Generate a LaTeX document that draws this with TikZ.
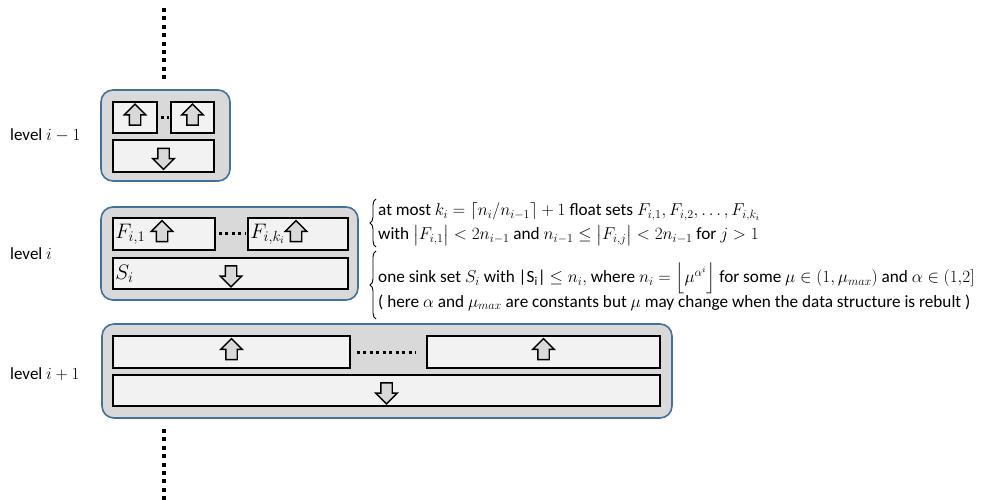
\documentclass[tikz,border=0pt]{standalone}
\usepackage{fix-cm}
\usepackage{amsmath,amssymb}
\usepackage{fontspec}
\setmainfont{Carlito}
\usetikzlibrary{positioning,shapes.arrows,decorations.pathreplacing}
\definecolor{frameblue}{RGB}{65,113,156}
\definecolor{levelgray}{RGB}{217,217,217}
\definecolor{setgray}{RGB}{242,242,242}

\begin{document}
\begin{tikzpicture}[
    x=1pt, y=-1pt,
    levelbox/.style={draw=frameblue, line width=1.6pt, fill=levelgray, rounded corners=12pt, inner sep=0pt},
    setbox/.style={draw=black, line width=1.6pt, fill=setgray, inner sep=0pt},
    floatarr/.style={draw=black, fill=levelgray, line width=1.4pt, shape=single arrow, shape border rotate=90,
        single arrow head extend=5pt, inner xsep=5pt, inner ysep=0pt, minimum height=21pt},
    sinkarr/.style={floatarr, shape border rotate=270},
    gap/.style={line width=3pt, dash pattern=on 3pt off 3.5pt},
    skip/.style={line width=4pt, dash pattern=on 4pt off 4.4pt},
    lvl/.style={font=\fontsize{17}{20}\selectfont, anchor=base west, inner sep=0pt},
    note/.style={font=\fontsize{17.2}{20}\selectfont, anchor=base west, inner sep=0pt, text height=12pt, text depth=4pt},
    setname/.style={font=\fontsize{21}{24}\selectfont, anchor=west, inner sep=0pt}
]
    \useasboundingbox (0,0) rectangle (989,500);

    % level i-1
    \node[levelbox, minimum width=129pt, minimum height=91pt] (l0) at (165.5,135.5) {};
    \node[setbox, minimum width=44pt, minimum height=31pt] (a0) at (135,117.5) {};
    \node[setbox, minimum width=43pt, minimum height=31pt] (b0) at (192.5,117.5) {};
    \node[setbox, minimum width=101pt, minimum height=32pt] (s0) at (163.5,156) {};
    \node[floatarr] (ua0) at (a0) {};
    \node[floatarr] (ub0) at (b0) {};
    \node[sinkarr] (d0) at (s0) {};
    \draw[gap] ([xshift=3pt]a0.east) -- ([xshift=-1pt]b0.west);
    \node[lvl] (lab0) at (10,141) {level \(i-1\)};

    % level i
    \node[levelbox, minimum width=257pt, minimum height=93pt] (l1) at (229.5,253.5) {};
    \node[setbox, minimum width=102pt, minimum height=32pt] (f1) at (164,234) {};
    \node[setbox, minimum width=100pt, minimum height=32pt] (fk) at (298,234) {};
    \node[setbox, minimum width=235pt, minimum height=31pt] (s1) at (230.5,273.5) {};
    \node[floatarr] (uf1) at (162,234) {};
    \node[floatarr] (ufk) at (296,234) {};
    \node[sinkarr] (d1) at (231,273.5) {};
    \node[setname] (tf1) at ([xshift=3pt]f1.west) {\(F_{i,1}\)};
    \node[setname] (tfk) at ([xshift=3pt]fk.west) {\(F_{i,k_i}\)};
    \node[setname] (ts1) at ([xshift=3pt]s1.west) {\(S_i\)};
    \draw[gap] ([xshift=3pt]f1.east) -- ([xshift=-2pt]fk.west);
    \node[lvl] (lab1) at (10,259) {level \(i\)};

    % level i+1
    \node[levelbox, minimum width=570pt, minimum height=94pt] (l2) at (387,371) {};
    \node[setbox, minimum width=237pt, minimum height=32pt] (f2) at (231.5,352) {};
    \node[setbox, minimum width=233pt, minimum height=32pt] (g2) at (543.5,352) {};
    \node[setbox, minimum width=547pt, minimum height=31pt] (s2) at (386.5,390.5) {};
    \node[floatarr] (uf2) at (f2) {};
    \node[floatarr] (ug2) at (g2) {};
    \node[sinkarr] (d2) at (s2) {};
    \draw[gap] ([xshift=6pt]f2.east) -- ([xshift=-10pt]g2.west);
    \node[lvl] (lab2) at (10,379) {level \(i+1\)};

    % levels above and below
    \coordinate (top1) at (164,8);
    \coordinate (top2) at (164,80);
    \coordinate (bot1) at (164,429);
    \coordinate (bot2) at (164,500);
    \draw[skip] (top1) -- (top2);
    \draw[skip] (bot1) -- (bot2);

    % notes on level i
    \draw[line width=0.9pt, decorate, decoration={brace, amplitude=6pt}] (376,247) -- (376,199);
    \draw[line width=0.9pt, decorate, decoration={brace, amplitude=6pt}] (376,319) -- (376,251);
    \node[note] (n1) at (378,216) {at most \(k_i=\lceil n_i/n_{i-1}\rceil+1\) float sets \(F_{i,1}, F_{i,2}, \dots, F_{i,k_i}\)};
    \node[note] (n2) at (378,240) {with \(\bigl|F_{i,1}\bigr|<2n_{i-1}\) and \(n_{i-1}\le\bigl|F_{i,j}\bigr|<2n_{i-1}\) for \(j>1\)};
    \node[note] (n3) at (378,283) {one sink set \(S_i\) with |S\textsubscript{i}| \(\le n_i,\) where \(n_i=\left\lfloor\mu^{\alpha^i}\right\rfloor\) for some \(\mu\in(1,\mu_{max})\) and \(\alpha\in(1{,}2]\)};
    \node[note] (n4) at (378,307) {( here \(\alpha\) and \(\mu_{max}\) are constants but \(\mu\) may change when the data structure is rebult )};
\end{tikzpicture}
\end{document}
